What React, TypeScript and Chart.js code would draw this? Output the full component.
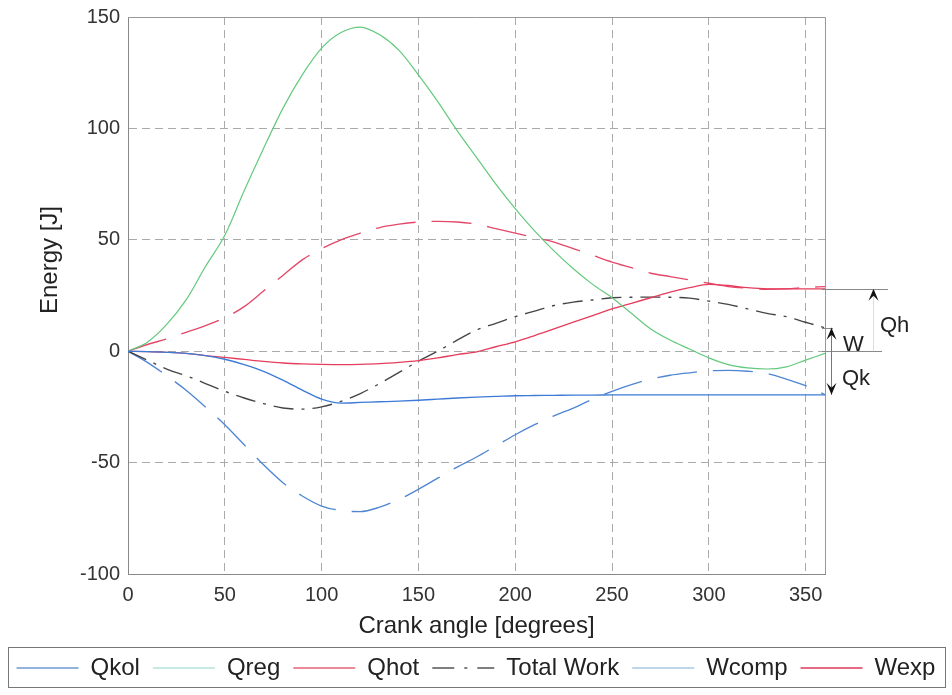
import { useEffect, useRef } from 'react';
import { Chart, registerables } from 'chart.js';

Chart.register(...registerables);

const angles = [0, 10, 20, 30, 40, 50, 60, 70, 80, 90, 100, 110, 120, 130, 140, 150, 160, 170, 180, 190, 200, 210, 220, 230, 240, 250, 260, 270, 280, 290, 300, 310, 320, 330, 340, 350, 360];

const qkol = [0, -0.2, -0.5, -1, -2, -3.6, -6, -9, -13, -17.5, -21.5, -23.3, -23, -22.7, -22.4, -22, -21.5, -21, -20.6, -20.3, -20, -19.9, -19.8, -19.7, -19.7, -19.6, -19.6, -19.6, -19.6, -19.6, -19.6, -19.6, -19.6, -19.6, -19.6, -19.6, -19.6];
const qreg = [0, 4, 12, 23, 38, 52, 72, 91, 109, 124, 136, 143, 145.5, 142, 135, 124, 112, 99, 87, 75, 64, 54, 45, 37, 30, 24, 17, 10, 5, 1, -3, -6, -7.5, -8, -7, -4, -1];
const qhot = [0, -0.2, -0.5, -1, -2, -2.8, -3.7, -4.6, -5.3, -5.7, -5.9, -6, -5.9, -5.6, -5, -4.2, -3, -1.5, -0.3, 2, 4.2, 7, 10, 13, 16, 19, 21.5, 24, 26.5, 28.5, 30, 29.5, 28.5, 28, 28, 28, 28];
const totalWork = [0, -4, -8, -11, -14.5, -18, -21, -23.5, -25.5, -26, -25, -22.5, -19, -14.5, -9.5, -4.5, 0, 5, 9.5, 12.5, 15.5, 18, 20.5, 22, 23, 24, 24.2, 24.3, 24.2, 23.8, 22.5, 21, 19, 17, 15.5, 13, 10.5];
const wcomp = [0, -5, -11, -17.5, -25, -33, -42, -51, -59, -65, -69.5, -71.5, -72, -70, -66.5, -62, -57, -52, -47.5, -42.5, -37.5, -33, -29, -25.5, -21.5, -18, -15, -12.5, -10.8, -9.7, -8.8, -8.6, -9, -10, -12.5, -15.5, -19.5];
const wexp = [0, 3, 5.5, 8.5, 11.5, 15, 20, 27, 34, 41, 46, 50, 53, 55.5, 57, 58, 58.3, 58, 57, 55, 53, 51, 49, 46, 43, 40, 37.5, 35, 33.5, 32, 30.5, 29, 28.3, 27.8, 28, 28.6, 29];

const xTicks = [0, 50, 100, 150, 200, 250, 300, 350];
const seriesNames = ['Qkol', 'Qreg', 'Qhot', 'Total Work', 'Wcomp', 'Wexp'];
const annotationLabels = { qh: 'Qh', w: 'W', qk: 'Qk' };
const xTitle = 'Crank angle [degrees]';
const yTitle = 'Energy [J]';

const FONT = '"Liberation Sans", Arial, Helvetica, sans-serif';

const lineColors = ['#3d7bd6', '#63c97c', '#e53d5c', '#444444', '#4f86d4', '#e3486a'];
const legendColors = ['#6f9ad2', '#b5e3da', '#e56578', '#555555', '#a9c8e6', '#dc3a5a'];
const lineDashes: number[][] = [[], [], [], [20, 8, 3, 8], [40, 16], [40, 16]];
const legendDashes: number[][] = [[], [], [], [22, 10, 3, 10], [], []];

const pts = (arr: number[]) => angles.map((a, i) => ({ x: a, y: arr[i] }));

const extrasPlugin = {
  id: 'extras',
  afterDraw(chart: any) {
    const { ctx, chartArea, scales } = chart;
    const x = scales.x;
    const y = scales.y;
    ctx.save();
    // box top & right
    ctx.strokeStyle = '#999';
    ctx.lineWidth = 1;
    ctx.setLineDash([]);
    ctx.beginPath();
    ctx.moveTo(chartArea.left, chartArea.top + 0.5);
    ctx.lineTo(chartArea.right + 0.5, chartArea.top + 0.5);
    ctx.lineTo(chartArea.right + 0.5, chartArea.bottom);
    ctx.stroke();

    // y title
    ctx.fillStyle = '#222';
    ctx.font = `24px ${FONT}`;
    ctx.textAlign = 'center';
    ctx.textBaseline = 'middle';
    ctx.translate(50, 260);
    ctx.rotate(-Math.PI / 2);
    ctx.fillText(yTitle, 0, 0);
    ctx.setTransform(1, 0, 0, 1, 0, 0);

    // annotations at right
    const last = angles.length - 1;
    const xr = x.getPixelForValue(angles[last]);
    const y0 = y.getPixelForValue(0);
    const yQh = y.getPixelForValue(qhot[last]);
    const yW = y.getPixelForValue(totalWork[last]);
    const yQk = y.getPixelForValue(qkol[last]);
    ctx.strokeStyle = '#888';
    ctx.lineWidth = 1;
    const hline = (yy: number, x1: number, x2: number) => {
      ctx.beginPath();
      ctx.moveTo(x1, Math.round(yy) + 0.5);
      ctx.lineTo(x2, Math.round(yy) + 0.5);
      ctx.stroke();
    };
    hline(yQh, xr - 3, xr + 63);
    hline(y0, xr - 3, xr + 57);
    hline(yW, xr - 3, xr + 8);

    const arrow = (ax: number, from: number, to: number, color: string) => {
      ctx.strokeStyle = color;
      ctx.beginPath();
      ctx.moveTo(ax + 0.5, from);
      ctx.lineTo(ax + 0.5, to);
      ctx.stroke();
      const dir = to < from ? 1 : -1;
      ctx.fillStyle = '#111';
      ctx.beginPath();
      ctx.moveTo(ax + 0.5, to);
      ctx.lineTo(ax - 4.5, to + dir * 12);
      ctx.lineTo(ax + 0.5, to + dir * 7);
      ctx.lineTo(ax + 5.5, to + dir * 12);
      ctx.closePath();
      ctx.fill();
    };
    arrow(xr + 6, y0, yW, '#777');
    arrow(xr + 6, y0, yQk, '#777');
    arrow(xr + 48, y0, yQh, '#ddd');

    ctx.fillStyle = '#222';
    ctx.font = `22px ${FONT}`;
    ctx.textAlign = 'left';
    ctx.textBaseline = 'middle';
    ctx.fillText(annotationLabels.w, xr + 18, 345);
    ctx.fillText(annotationLabels.qh, xr + 55, 326);
    ctx.fillText(annotationLabels.qk, xr + 17, 379);

    // legend box
    const lg = chart.legend;
    if (lg) {
      ctx.strokeStyle = '#777';
      ctx.lineWidth = 1;
      ctx.strokeRect(8.5, lg.top + 4.5, 937, 40);
    }
    ctx.restore();
  },
};

export default function App() {
  const ref = useRef<HTMLCanvasElement>(null);
  useEffect(() => {
    const gridDash = [8, 5];
    const chart = new Chart(ref.current!, {
      type: 'line',
      data: {
        datasets: [qkol, qreg, qhot, totalWork, wcomp, wexp].map((arr, i) => ({
          label: seriesNames[i],
          data: pts(arr),
          borderColor: lineColors[i],
          backgroundColor: lineColors[i],
          borderWidth: i === 1 ? 1.2 : 1.35,
          borderDash: lineDashes[i],
        })),
      },
      options: {
        responsive: false,
        animation: false,
        layout: { padding: { top: 17, right: 0, left: 0, bottom: 5 } },
        elements: { point: { radius: 0 }, line: { cubicInterpolationMode: 'monotone' } },
        plugins: {
          tooltip: { enabled: false },
          legend: {
            position: 'bottom',
            labels: {
              usePointStyle: true,
              pointStyle: 'line',
              pointStyleWidth: 62,
              color: '#222',
              font: { size: 24, family: FONT },
              padding: 13,
              generateLabels: (chart: any) =>
                chart.data.datasets.map((ds: any, i: number) => ({
                  text: ds.label,
                  fillStyle: legendColors[i],
                  strokeStyle: legendColors[i],
                  lineWidth: 1.5,
                  lineDash: legendDashes[i],
                  pointStyle: 'line',
                  hidden: false,
                  datasetIndex: i,
                  fontColor: '#222',
                })),
            },
          },
        },
        scales: {
          x: {
            type: 'linear',
            min: 0,
            max: 360,
            afterBuildTicks: (s: any) => {
              s.ticks = xTicks.map((v) => ({ value: v }));
            },
            afterFit: (s: any) => {
              s.height = 69;
            },
            ticks: { color: '#333', font: { size: 20, family: FONT }, padding: 9, maxRotation: 0, autoSkip: false },
            grid: { color: '#aaa', drawTicks: false },
            border: { display: true, color: '#888', dash: gridDash },
            title: { display: true, text: xTitle, color: '#222', font: { size: 24, family: FONT }, padding: { top: 0, bottom: 2 } },
          },
          y: {
            type: 'linear',
            min: -100,
            max: 150,
            afterFit: (s: any) => {
              s.width = 128;
              s.paddingTop = 0;
            },
            ticks: { stepSize: 50, color: '#333', font: { size: 20, family: FONT }, padding: 8 },
            grid: { color: '#aaa', drawTicks: false },
            border: { display: true, color: '#888', dash: gridDash },
          },
          yr: {
            type: 'linear',
            position: 'right',
            min: -100,
            max: 150,
            afterFit: (s: any) => {
              s.width = 127;
              s.paddingTop = 0;
            },
            ticks: { display: false },
            grid: { display: false, drawOnChartArea: false },
            border: { display: false },
          },
        },
      } as any,
      plugins: [extrasPlugin],
    });
    return () => chart.destroy();
  }, []);
  return (
    <div style={{ position: 'absolute', left: 0, top: 0, width: 952, height: 695, background: '#fff' }}>
      <canvas ref={ref} width={952} height={695} style={{ display: 'block' }} />
    </div>
  );
}
